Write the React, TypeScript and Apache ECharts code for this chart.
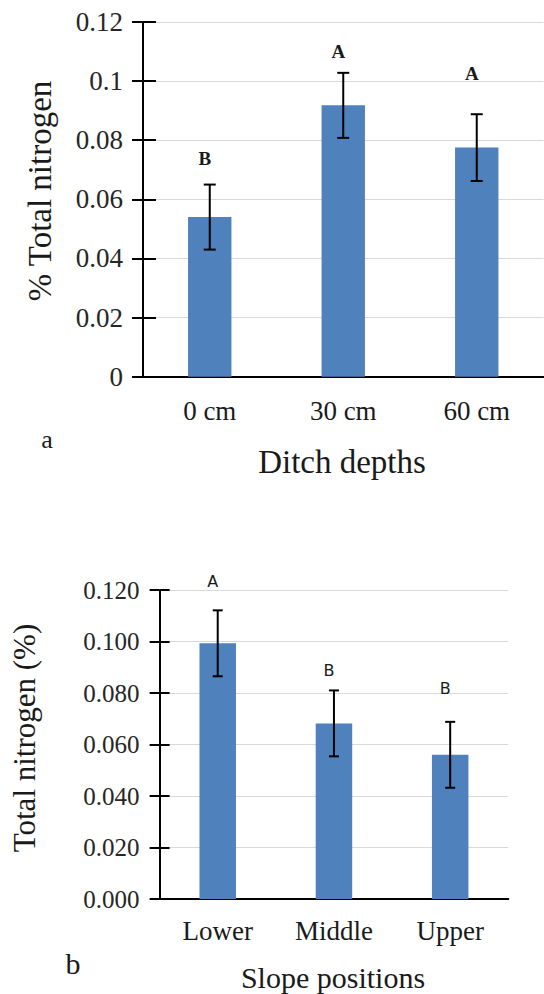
import React, { useEffect, useRef } from 'react';
import * as echarts from 'echarts';

// ---- Panel a: ditch depths ----
const depthCategories = ['0 cm', '30 cm', '60 cm'];
const depthMeans = [0.054, 0.0918, 0.0775];
const depthErrors = [0.011, 0.011, 0.0113];
const depthLetters = ['B', 'A', 'A'];
const depthLetterLevels = [0.0738, 0.1099, 0.1026];
const depthTicks = ['0', '0.02', '0.04', '0.06', '0.08', '0.1', '0.12'];

// ---- Panel b: slope positions ----
const slopeCategories = ['Lower', 'Middle', 'Upper'];
const slopeMeans = [0.0993, 0.0682, 0.056];
const slopeErrors = [0.0128, 0.0128, 0.0128];
const slopeLetters = ['A', 'B', 'B'];
const slopeLetterLevels = [0.1232, 0.0889, 0.0818];
const slopeTicks = ['0.000', '0.020', '0.040', '0.060', '0.080', '0.100', '0.120'];

const SERIF = 'Times New Roman, Liberation Serif, DejaVu Serif, serif';
const SANS = 'DejaVu Sans, Verdana, sans-serif';
const BAR = '#4F81BD';
const INK = '#1a1a1a';

const G1 = { left: 143, top: 22, width: 400.5, height: 354.7 };
const G2 = { left: 159.6, top: 590, width: 348.7, height: 309 };

function tickFormatter(labels: string[]) {
  return (v: number) => labels[Math.round(v / 0.02)] ?? '';
}

function errorSeries(gi: number, means: number[], errs: number[], cap: number) {
  return {
    type: 'custom',
    xAxisIndex: gi * 2,
    yAxisIndex: gi * 2,
    clip: false,
    z: 5,
    encode: { x: 0, y: [1, 2] },
    data: means.map((m, i) => [i, m - errs[i], m + errs[i]]),
    renderItem: (params: any, api: any) => {
      const x = api.value(0);
      const lo = api.coord([x, api.value(1)]);
      const hi = api.coord([x, api.value(2)]);
      const st = { stroke: '#000', lineWidth: 2 };
      return {
        type: 'group',
        children: [
          { type: 'line', shape: { x1: lo[0], y1: lo[1], x2: hi[0], y2: hi[1] }, style: st },
          { type: 'line', shape: { x1: hi[0] - cap, y1: hi[1], x2: hi[0] + cap, y2: hi[1] }, style: st },
          { type: 'line', shape: { x1: lo[0] - cap, y1: lo[1], x2: lo[0] + cap, y2: lo[1] }, style: st },
        ],
      };
    },
  };
}

function letterSeries(gi: number, levels: number[], letters: string[], font: any, shift: number) {
  return {
    type: 'custom',
    xAxisIndex: gi * 2,
    yAxisIndex: gi * 2,
    clip: false,
    z: 6,
    encode: { x: 0, y: 1 },
    data: levels.map((v, i) => [i, v]),
    renderItem: (params: any, api: any) => {
      const p = api.coord([api.value(0), api.value(1)]);
      return {
        type: 'text',
        x: p[0] + shift,
        y: p[1],
        style: { text: letters[params.dataIndex], align: 'center', verticalAlign: 'middle', fill: INK, ...font },
      };
    },
  };
}

function axesFor(grid: any, gi: number, cats: string[], ticks: string[], o: any) {
  const xMain = {
    type: 'category', gridIndex: gi, position: 'bottom', data: cats,
    axisLine: { onZero: false, lineStyle: { color: '#000', width: 2 } },
    axisTick: { length: o.xTickDown, lineStyle: { color: '#000', width: 2 } },
    axisLabel: { margin: o.xLabelMargin, color: INK, fontFamily: SERIF, fontSize: o.xLabelSize },
  };
  const xInner = {
    type: 'category', gridIndex: gi, position: 'top', offset: -grid.height, data: cats,
    axisLine: { show: false, onZero: false },
    axisTick: { length: o.xTickUp, lineStyle: { color: '#000', width: 2 } },
    axisLabel: { show: false },
  };
  const yMain = {
    type: 'value', gridIndex: gi, position: 'left', min: 0, max: 0.12, interval: 0.02,
    axisLine: { show: true, lineStyle: { color: '#000', width: 2 } },
    axisTick: { show: true, length: o.yTickOut, lineStyle: { color: '#000', width: 2 } },
    axisLabel: { margin: o.yLabelMargin, color: '#262626', fontFamily: SERIF, fontSize: o.yLabelSize, formatter: tickFormatter(ticks) },
    splitLine: { show: true, lineStyle: { color: '#d9d9d9', width: 1 } },
  };
  const yInner = {
    type: 'value', gridIndex: gi, position: 'right', offset: -grid.width, min: 0, max: 0.12, interval: 0.02,
    axisLine: { show: false },
    axisTick: { show: true, length: o.yTickIn, lineStyle: { color: '#000', width: 2 } },
    axisLabel: { show: false },
    splitLine: { show: false },
  };
  return { x: [xMain, xInner], y: [yMain, yInner] };
}

function text(t: string, x: number, y: number, size: number, rotate = 0) {
  return {
    type: 'text', x, y, rotation: rotate,
    style: { text: t, fill: INK, fontFamily: SERIF, fontSize: size, align: 'center', verticalAlign: 'middle' },
  };
}

export default function App() {
  const ref = useRef<HTMLDivElement>(null);
  useEffect(() => {
    if (!ref.current) return;
    const chart = echarts.init(ref.current, undefined, { renderer: 'svg' });
    const a = axesFor(G1, 0, depthCategories, depthTicks, {
      xTickDown: 11, xTickUp: 12, xLabelMargin: 21, xLabelSize: 27,
      yTickOut: 11, yTickIn: 13, yLabelMargin: 20, yLabelSize: 27,
    });
    const b = axesFor(G2, 1, slopeCategories, slopeTicks, {
      xTickDown: 11, xTickUp: 11, xLabelMargin: 18, xLabelSize: 27,
      yTickOut: 10, yTickIn: 10, yLabelMargin: 20, yLabelSize: 25,
    });
    const option: any = {
      animation: false,
      backgroundColor: '#fff',
      grid: [
        { ...G1, containLabel: false },
        { ...G2, containLabel: false },
      ],
      xAxis: [...a.x, ...b.x],
      yAxis: [...a.y, ...b.y],
      series: [
        { type: 'bar', xAxisIndex: 0, yAxisIndex: 0, data: depthMeans, barWidth: '32.5%', itemStyle: { color: BAR } },
        errorSeries(0, depthMeans, depthErrors, 6),
        letterSeries(0, depthLetterLevels, depthLetters, { fontFamily: SERIF, fontSize: 19, fontWeight: 'bold' }, -5),
        { type: 'bar', xAxisIndex: 2, yAxisIndex: 2, data: slopeMeans, barWidth: '31.4%', itemStyle: { color: BAR } },
        errorSeries(1, slopeMeans, slopeErrors, 5),
        letterSeries(1, slopeLetterLevels, slopeLetters, { fontFamily: SANS, fontSize: 16 }, -5),
      ],
      graphic: [
        text('% Total nitrogen', 40, 191, 33, Math.PI / 2),
        text('Ditch depths', 342, 462, 33),
        text('a', 47, 439, 26),
        text('Total nitrogen (%)', 24, 738, 31, Math.PI / 2),
        text('Slope positions', 333, 977, 30),
        text('b', 73, 963, 30),
      ],
    };
    chart.setOption(option);
    return () => chart.dispose();
  }, []);
  return <div ref={ref} style={{ position: 'absolute', left: 0, top: 0, width: 544, height: 994 }} />;
}
